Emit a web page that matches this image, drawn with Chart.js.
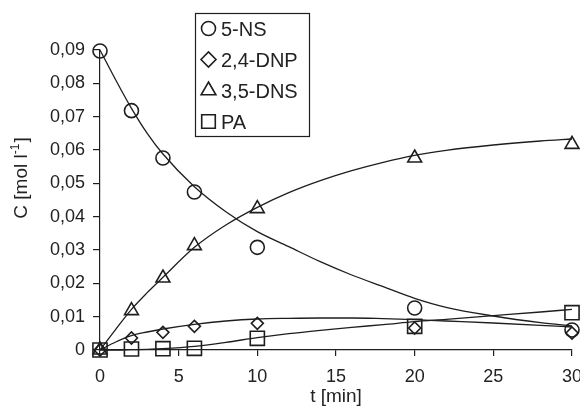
<!DOCTYPE html>
<html>
<head>
  <meta charset="UTF-8">
  <title>C vs t</title>
  <script src="https://cdn.jsdelivr.net/npm/chart.js"></script>
  <style>
    body { margin: 0; background: #fff; }
    #wrap { width: 580px; height: 412px; }
  </style>
</head>
<body>
  <div id="wrap"><canvas id="chart" width="580" height="412"></canvas></div>

  <script>
  // measured points
  const times = [0, 2, 4, 6, 10, 20, 30];
  const ns5 = [0.0897, 0.0718, 0.0576, 0.0474, 0.0308, 0.0126, 0.0060];
  const dnp24 = [0, 0.0036, 0.0053, 0.0071, 0.0080, 0.0066, 0.0051];
  const dns35 = [0, 0.0118, 0.0216, 0.0313, 0.0424, 0.0576, 0.0617];
  const pa = [0, 0.0003, 0.0004, 0.0005, 0.0035, 0.0071, 0.0112];

  // fitted curves
  const fitTimes = [0, 1, 2, 3, 4, 6, 8, 10, 12, 14, 16, 18, 20, 22, 25, 28, 30];
  const ns5Fit = [0.090, 0.081, 0.0725, 0.065, 0.0588, 0.049, 0.0415, 0.0355, 0.031, 0.0265, 0.0225, 0.019, 0.0155, 0.0128, 0.0102, 0.0082, 0.0072];
  const dnp24Fit = [0, 0.0024, 0.0043, 0.0054, 0.0063, 0.0077, 0.0087, 0.0093, 0.0095, 0.0096, 0.0096, 0.0094, 0.0091, 0.0087, 0.0081, 0.0074, 0.0069];
  const dns35Fit = [0, 0.0062, 0.0122, 0.0172, 0.0218, 0.0308, 0.0375, 0.0428, 0.0472, 0.0508, 0.0538, 0.0563, 0.0584, 0.0599, 0.0615, 0.0627, 0.0633];
  const paFit = [0, 0, 0.0001, 0.0002, 0.0004, 0.0011, 0.0023, 0.0037, 0.0049, 0.0059, 0.0068, 0.0076, 0.0085, 0.0092, 0.0103, 0.0114, 0.0122];

  const labels = ['5-NS', '2,4-DNP', '3,5-DNS', 'PA'];
  const xTicks = [0, 5, 10, 15, 20, 25, 30];

  const ink = '#1e1e1e';
  const FONT = '"Liberation Sans", Arial, Helvetica, sans-serif';

  const toXY = (xs, ys) => xs.map((x, i) => ({ x: x, y: ys[i] }));

  function fitSet(ys) {
    return {
      type: 'line',
      data: toXY(fitTimes, ys),
      borderColor: ink,
      borderWidth: 1.3,
      pointRadius: 0,
      cubicInterpolationMode: 'monotone',
      fill: false,
      clip: false
    };
  }

  function markSet(label, ys, style, r) {
    return {
      type: 'scatter',
      label: label,
      data: toXY(times, ys),
      showLine: false,
      pointStyle: style,
      pointRadius: r,
      pointBorderWidth: 1.6,
      pointBorderColor: ink,
      pointBackgroundColor: 'rgba(0,0,0,0)',
      borderColor: ink,
      clip: false
    };
  }

  // legend box inside the plot + rotated y title with superscript
  const extras = {
    id: 'extras',
    afterDraw(chart) {
      const ctx = chart.ctx;
      ctx.save();
      // legend
      ctx.strokeStyle = ink;
      ctx.lineWidth = 1.2;
      ctx.strokeRect(195.5, 13.5, 114, 123);
      const legendMarks = [
        { style: 'circle', r: 7 },
        { style: 'rectRot', r: 7.5 },
        { style: 'triangle', r: 8.5 },
        { style: 'rect', r: 9.6 }
      ];
      ctx.font = '20px ' + FONT;
      ctx.textBaseline = 'alphabetic';
      ctx.textAlign = 'left';
      labels.forEach((lab, i) => {
        const y = 28.5 + i * 31;
        ctx.fillStyle = 'rgba(0,0,0,0)';
        ctx.strokeStyle = ink;
        ctx.lineWidth = 1.6;
        Chart.helpers.drawPoint(ctx, { pointStyle: legendMarks[i].style, radius: legendMarks[i].r, borderWidth: 1.6, rotation: 0 }, 208.5, y);
        ctx.fillStyle = '#222';
        ctx.fillText(lab, 221, y + 7);
      });

      // y title
      ctx.translate(22, 178);
      ctx.rotate(-Math.PI / 2);
      ctx.fillStyle = '#222';
      ctx.textBaseline = 'middle';
      const big = '19px ' + FONT, small = '12px ' + FONT;
      const parts = [['C [mol l', big, 0], ['-1', small, -6], [']', big, 0]];
      let total = 0;
      parts.forEach(p => { ctx.font = p[1]; total += ctx.measureText(p[0]).width + (p[1] === small ? 1 : 0); });
      let x = -total / 2;
      parts.forEach(p => {
        ctx.font = p[1];
        ctx.fillText(p[0], x, p[2]);
        x += ctx.measureText(p[0]).width + (p[1] === small ? 1 : 0);
      });
      ctx.restore();
    }
  };

  Chart.defaults.font.family = FONT;
  Chart.defaults.color = '#222';

  new Chart(document.getElementById('chart'), {
    data: {
      datasets: [
        fitSet(ns5Fit),
        fitSet(dnp24Fit),
        fitSet(dns35Fit),
        fitSet(paFit),
        markSet(labels[0], ns5, 'circle', 7),
        markSet(labels[1], dnp24, 'rectRot', 6),
        markSet(labels[2], dns35, 'triangle', 8),
        markSet(labels[3], pa, 'rect', 10)
      ]
    },
    options: {
      responsive: false,
      animation: false,
      layout: { autoPadding: false, padding: { top: 50, right: 8, left: 0, bottom: 0 } },
      plugins: { legend: { display: false }, tooltip: { enabled: false } },
      scales: {
        x: {
          type: 'linear',
          min: 0,
          max: 30,
          afterBuildTicks: s => { s.ticks = xTicks.map(v => ({ value: v })); },
          ticks: { font: { size: 18 }, padding: 10, maxRotation: 0 },
          grid: { drawOnChartArea: false, tickLength: 6, color: ink, lineWidth: 1.2 },
          border: { color: ink, width: 1.2 },
          title: { display: true, text: 't [min]', font: { size: 19 }, color: '#222', padding: { top: 0, bottom: 4 } },
          afterFit: s => { s.height = 62; s.paddingLeft = 0; s.paddingRight = 0; }
        },
        y: {
          min: 0,
          max: 0.09,
          ticks: {
            stepSize: 0.01,
            font: { size: 18 },
            padding: 8,
            callback: v => (Math.abs(v) < 1e-9 ? '0' : v.toFixed(2).replace('.', ','))
          },
          grid: { drawOnChartArea: false, tickLength: 7, color: ink, lineWidth: 1.2 },
          border: { color: ink, width: 1.2 },
          afterFit: s => { s.width = 100; s.paddingTop = 0; s.paddingBottom = 0; }
        }
      }
    },
    plugins: [extras]
  });
  </script>
</body>
</html>
